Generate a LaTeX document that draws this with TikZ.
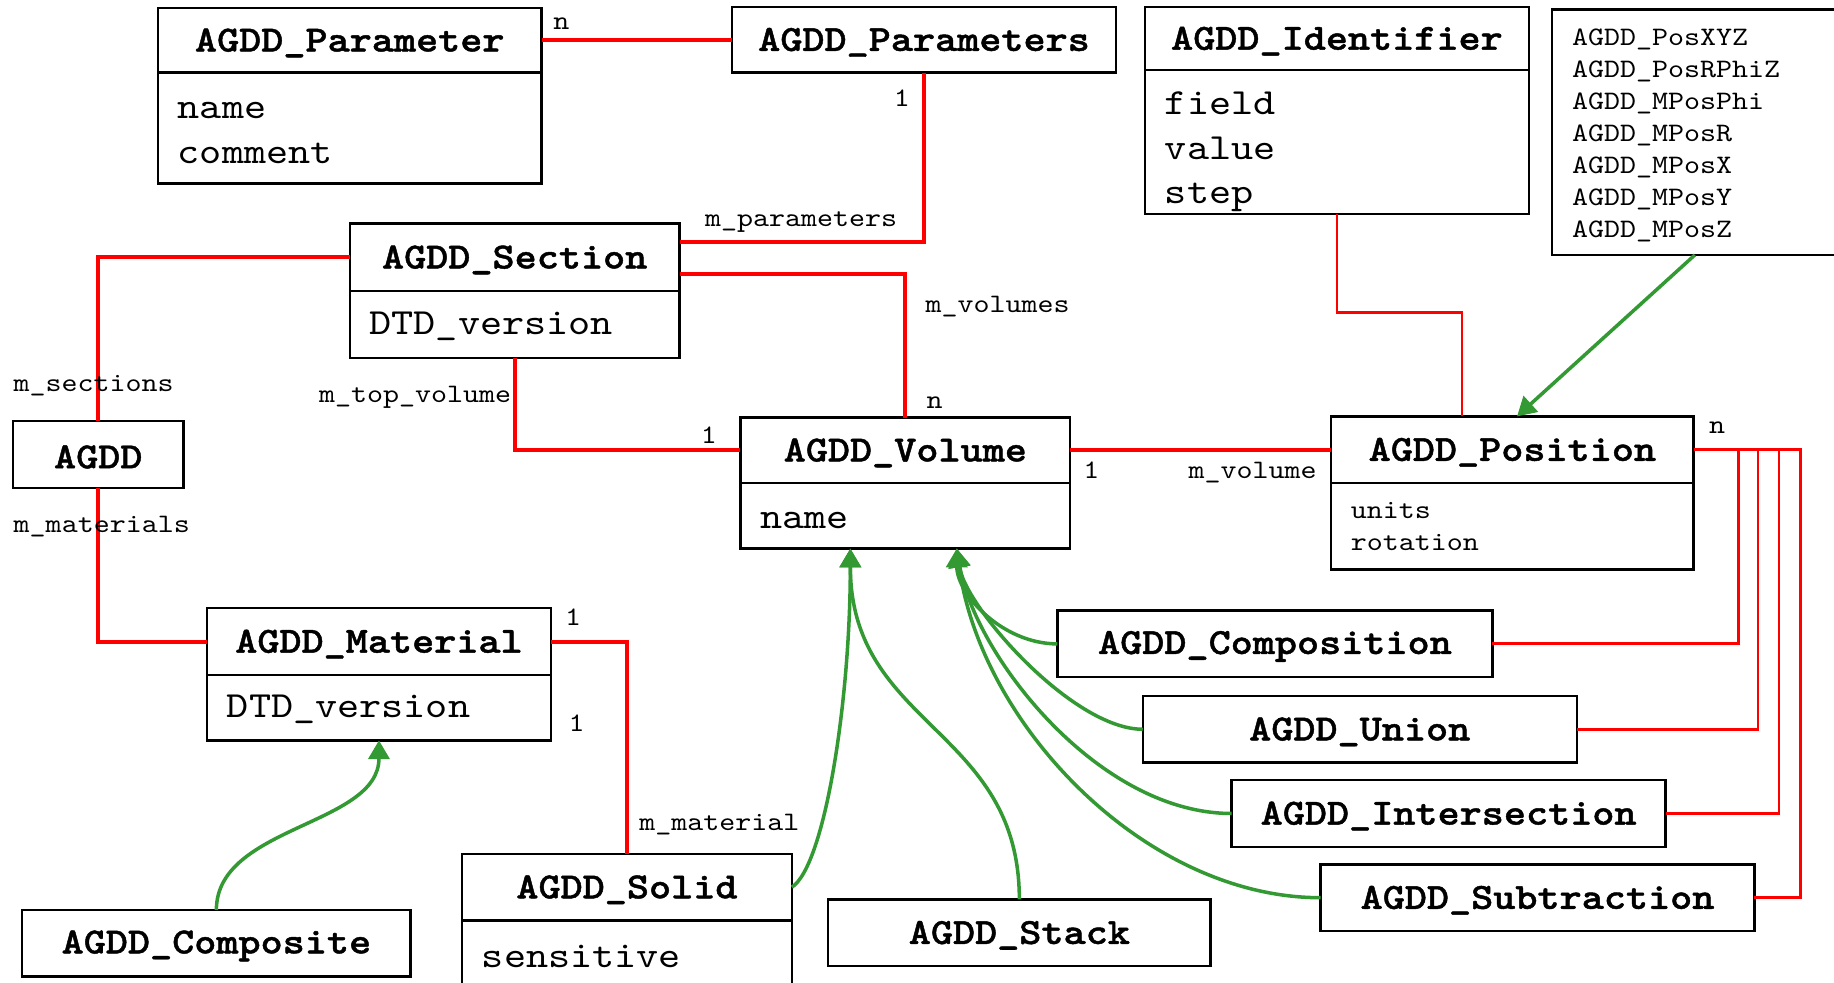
\documentclass[tikz,border=0pt]{standalone}
\usepackage{fontspec}
\usetikzlibrary{arrows.meta, positioning, calc}
\newfontfamily\umlfont{lmmono10-regular.otf}[FakeStretch=1.143, BoldFont=lmmonolt10-bold.otf, BoldFeatures={FakeBold=1.2}]
\newcommand{\bigtxt}{\umlfont\fontsize{15.75pt}{19pt}\selectfont}
\newcommand{\smalltxt}{\umlfont\fontsize{11.4pt}{13.65pt}\selectfont}
\definecolor{assocred}{RGB}{255, 0, 0}
\definecolor{inhgreen}{RGB}{51, 153, 51}
\tikzset{
  classhead/.style={draw, line width=1pt, fill=white, font=\bigtxt\bfseries, minimum height=28.5pt, inner sep=0pt, outer sep=0pt, anchor=north west,
    execute at begin node=\rule{0pt}{12pt}},
  classattr/.style={draw, line width=1pt, fill=white, font=\smalltxt, inner xsep=8.5pt, inner ysep=0pt, outer sep=0pt, align=left},
  bigattr/.style={classattr, font=\bigtxt, execute at begin node=\rule{0pt}{11pt}},
  assoc/.style={draw=assocred, line width=1.7pt},
  assocthin/.style={draw=assocred, line width=1.2pt},
  inherit/.style={draw=inhgreen, line width=1.5pt, -{Triangle[length=8pt, width=9pt]}},
  role/.style={font=\smalltxt, inner sep=0pt, text height=1.5ex, text depth=0.25ex},
}

\begin{document}
\begin{tikzpicture}[x=0.5pt, y=-0.5pt]
  \path[use as bounding box, fill=white] (0,0) rectangle (1568,840);

  % classes
  \node[classhead, minimum width=164pt, minimum height=27.5pt] (par) at (135,7) {AGDD\_Parameter};
  \node[bigattr, text width=147pt, minimum height=47.5pt, below=0pt of par] (par-a) {name\\comment};
  \node[classhead, minimum width=164pt, minimum height=28pt] (pars) at (626,6) {AGDD\_Parameters};
  \node[classhead, minimum width=164pt, minimum height=27pt] (ident) at (979,6) {AGDD\_Identifier};
  \node[bigattr, text width=147pt, minimum height=61.5pt, below=0pt of ident] (ident-a) {\rule{0pt}{18pt}field\\value\\step};
  \node[classattr, anchor=north west, text width=105pt, minimum height=105pt] (poslist) at (1327,8)
    {\rule{0pt}{10pt}AGDD\_PosXYZ\\AGDD\_PosRPhiZ\\AGDD\_MPosPhi\\AGDD\_MPosR\\AGDD\_MPosX\\AGDD\_MPosY\\AGDD\_MPosZ};

  \node[classhead, minimum width=141pt, minimum height=29pt] (sec) at (299,191) {AGDD\_Section};
  \node[bigattr, text width=124pt, minimum height=28.5pt, below=0pt of sec] (sec-a) {DTD\_version};
  \node[classhead, minimum width=73pt] (agdd) at (11,360) {AGDD};

  \node[classhead, minimum width=141pt, minimum height=28pt] (vol) at (633,357) {AGDD\_Volume};
  \node[bigattr, text width=124pt, minimum height=28pt, below=0pt of vol] (vol-a) {name};
  \node[classhead, minimum width=155pt] (pos) at (1138,356) {AGDD\_Position};
  \node[classattr, text width=138pt, minimum height=37pt, below=0pt of pos] (pos-a) {units\\rotation};

  \node[classhead, minimum width=147pt] (mat) at (177,520) {AGDD\_Material};
  \node[bigattr, text width=130pt, minimum height=28pt, below=0pt of mat] (mat-a) {DTD\_version};
  \node[classhead, minimum width=166pt] (compo) at (19,778) {AGDD\_Composite};
  \node[classhead, minimum width=141pt] (solid) at (395,730) {AGDD\_Solid};
  \node[bigattr, text width=124pt, minimum height=29pt, below=0pt of solid] (solid-a) {sensitive};
  \node[classhead, minimum width=163.5pt] (stack) at (708,769) {AGDD\_Stack};

  \node[classhead, minimum width=186pt] (comp) at (904,522) {AGDD\_Composition};
  \node[classhead, minimum width=185.5pt] (uni) at (977,595) {AGDD\_Union};
  \node[classhead, minimum width=185.5pt] (inter) at (1053,667) {AGDD\_Intersection};
  \node[classhead, minimum width=185.5pt] (sub) at (1129,739) {AGDD\_Subtraction};

  % associations
  \draw[assoc] (par.east) -- (par.east -| pars.west);
  \draw[assoc] (pars.south) |- ([yshift=6.5pt]sec.east);
  \draw[assoc] ([yshift=-7pt]sec.east) -| (vol.north);
  \draw[assoc] (sec.west) -| (agdd.north);
  \draw[assoc] (sec-a.south) |- (vol.west);
  \draw[assoc] (agdd.south) |- (mat.west);
  \draw[assoc] (mat.east) -| (solid.north);
  \draw[assoc] (vol.east) -- (vol.east -| pos.west);
  \draw[assocthin] (ident-a.south) -- ++(0,84) -| ([xshift=-21.5pt]pos.north);
  \foreach \op/\dx in {comp/38, uni/55, inter/73, sub/91}
    \draw[assocthin] (pos.east) -- ++(\dx,0) |- (\op.east);

  % role names
  \node[role] (n-par) at (480,20) {n};
  \node[role] (one-pars) at (771,86) {1};
  \node[role] (r-params) at (685,188) {m\_parameters};
  \node[role] (r-vols) at (853,262) {m\_volumes};
  \node[role] (n-vol) at (799,344) {n};
  \node[role] (r-secs) at (80,329) {m\_sections};
  \node[role] (r-top) at (355,339) {m\_top\_volume};
  \node[role] (one-top) at (606,374) {1};
  \node[role] (r-mats) at (87,450) {m\_materials};
  \node[role] (one-mat) at (490,529) {1};
  \node[role] (one-sol) at (493,620) {1};
  \node[role] (r-mat) at (615,705) {m\_material};
  \node[role] (one-vol) at (933,404) {1};
  \node[role] (r-vol) at (1071,404) {m\_volume};
  \node[role] (n-pos) at (1468,365) {n};

  % inheritance
  \coordinate (vol-l) at ([xshift=-23.5pt]vol-a.south);
  \coordinate (vol-r) at ([xshift=22pt]vol-a.south);
  \draw[inherit] (poslist.south) -- ([xshift=2pt]pos.north);
  \draw[inherit] (compo.north) .. controls +(0,-72) and +(0,73) .. (mat-a.south);
  \draw[inherit] (solid.east) .. controls +(28,-18) and +(0,131) .. (vol-l);
  \draw[inherit] (stack.north) .. controls +(0,-147) and +(0,153) .. (vol-l);
  \foreach \op/\ax/\bx/\by in {comp/-47/0/39, uni/-60/7/50, inter/-115/15/90, sub/-150/20/150}
    \draw[inherit] (\op.west) .. controls +(\ax,0) and +(\bx,\by) .. (vol-r);
\end{tikzpicture}
\end{document}
